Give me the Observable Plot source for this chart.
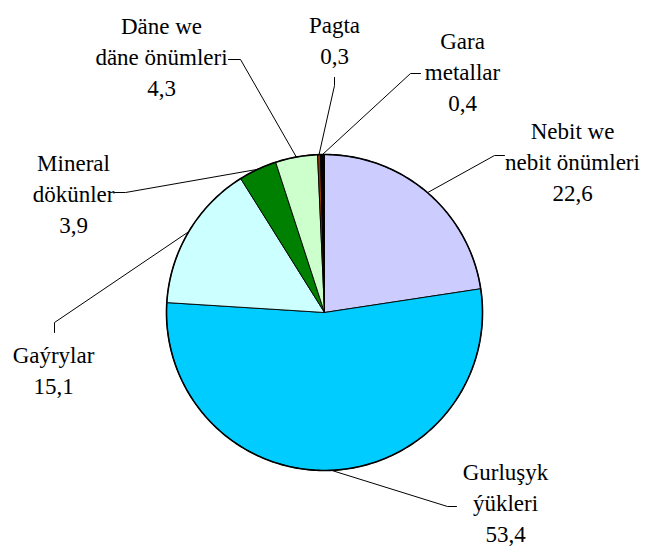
<!DOCTYPE html>
<html>
<head>
<meta charset="utf-8">
<script src="https://cdn.jsdelivr.net/npm/d3@7"></script>
<script src="https://cdn.jsdelivr.net/npm/@observablehq/plot@0.6"></script>
<style>
  html, body { margin: 0; padding: 0; background: #ffffff; }
  #chart svg { display: block; }
</style>
</head>
<body>
<div id="chart"></div>
<script>
// ---- Data ----
const categories = [
  "Nebit we\nnebit önümleri",
  "Gurluşyk\nýükleri",
  "Gaýrylar",
  "Mineral\ndökünler",
  "Däne we\ndäne önümleri",
  "Pagta",
  "Gara\nmetallar"
];
const values = [22.6, 53.4, 15.1, 3.9, 4.3, 0.3, 0.4];
const colors = ["#CCCCFF", "#00CCFF", "#CCFFFF", "#008000", "#CCFFCC", "#993300", "#000000"];

// ---- Layout (pixels) ----
const W = 645, H = 547;
const cx = 324, cy = 312, R = 158;
// label anchor (top of first line, centre), leader elbow and end, per category
const labelLayout = [
  {x: 572, y: 116, elbow: [494, 155], end: [504, 155]},
  {x: 505, y: 457, elbow: [447, 506], end: [456, 506]},
  {x: 53,  y: 340, elbow: [54, 322],  end: [54, 332]},
  {x: 73,  y: 148, elbow: [125, 192], end: [114, 192]},
  {x: 161, y: 11,  elbow: [240, 59],  end: [228, 59]},
  {x: 334, y: 10,  elbow: [334, 85],  end: [334, 77]},
  {x: 462, y: 26,  elbow: [410, 73],  end: [420, 73]}
];

// ---- Geometry from data ----
const rows = categories.map((name, i) => ({name, value: values[i], color: colors[i]}));
const arcs = d3.pie().sort(null).value(d => d.value).startAngle(0).endAngle(2 * Math.PI)(rows);
const pt = (a, r) => ({x: cx + r * Math.sin(a), y: cy - r * Math.cos(a)});

const wedgePts = [];
arcs.forEach(a => {
  const name = a.data.name;
  wedgePts.push({name, ...pt(0, 0)});
  const n = Math.max(2, Math.ceil((a.endAngle - a.startAngle) / 0.01));
  for (let k = 0; k <= n; ++k) {
    const ang = a.startAngle + (a.endAngle - a.startAngle) * k / n;
    wedgePts.push({name, ...pt(ang, R)});
  }
  wedgePts.push({name, ...pt(0, 0)});
});

const circlePts = d3.range(0, 361).map(k => pt(k * Math.PI / 180, R));

const leaderPts = [];
arcs.forEach((a, i) => {
  const name = a.data.name;
  const mid = (a.startAngle + a.endAngle) / 2;
  const L = labelLayout[i];
  leaderPts.push({name, ...pt(mid, R)});
  leaderPts.push({name, x: L.elbow[0], y: L.elbow[1]});
  leaderPts.push({name, x: L.end[0], y: L.end[1]});
});

const fmt = v => v.toFixed(1).replace(".", ",");
const labels = rows.map((d, i) => ({
  x: labelLayout[i].x,
  y: labelLayout[i].y,
  text: d.name + "\n" + fmt(d.value)
}));

const serif = "Liberation Serif, Times New Roman, DejaVu Serif, serif";
const chart = Plot.plot({
  width: W,
  height: H,
  margin: 0,
  x: {domain: [0, W], range: [0, W], axis: null},
  y: {domain: [0, H], range: [0, H], axis: null},
  color: {domain: categories, range: colors},
  style: {background: "#ffffff", fontFamily: serif},
  marks: [
    Plot.line(leaderPts, {x: "x", y: "y", z: "name", stroke: "black", strokeWidth: 1, curve: "linear"}),
    Plot.line(wedgePts, {x: "x", y: "y", z: "name", fill: "name", stroke: "black", strokeWidth: 0.9, strokeLinejoin: "miter", curve: "linear"}),
    Plot.line(circlePts, {x: "x", y: "y", stroke: "black", strokeWidth: 1.6, curve: "linear"}),
    Plot.text(labels, {
      x: "x", y: "y", text: "text",
      textAnchor: "middle", lineAnchor: "top", lineHeight: 1.35,
      fontSize: 23, fontFamily: serif,
      fill: "black"
    })
  ]
});
document.getElementById("chart").appendChild(chart);
</script>
</body>
</html>
